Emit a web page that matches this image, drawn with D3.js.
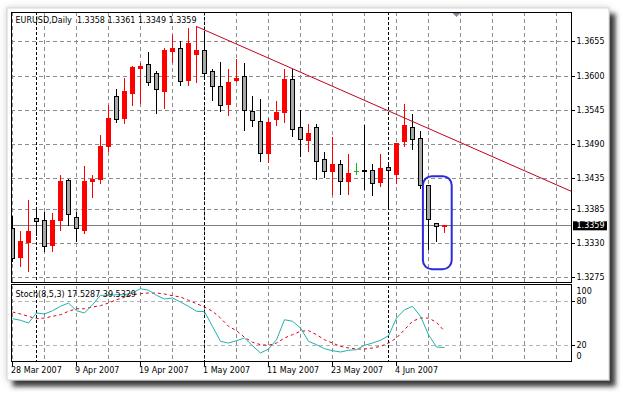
<!DOCTYPE html>
<html>
<head>
<meta charset="utf-8">
<script src="https://cdn.jsdelivr.net/npm/d3@7"></script>
<style>
  body { margin: 0; background: #fff; }
  svg { display: block; font-family: "DejaVu Sans", sans-serif; font-size: 8px; }
</style>
</head>
<body>
<div id="chart"></div>
<script>
// EURUSD daily candles (28 Mar - 12 Jun 2007) with a falling trendline
// and Stoch(8,5,3) in the sub window, MetaTrader look

const dates = [
  "2007-03-28", "2007-03-29", "2007-03-30", "2007-04-02", "2007-04-03", "2007-04-04", "2007-04-05", "2007-04-06",
  "2007-04-09", "2007-04-10", "2007-04-11", "2007-04-12", "2007-04-13", "2007-04-16", "2007-04-17", "2007-04-18",
  "2007-04-19", "2007-04-20", "2007-04-23", "2007-04-24", "2007-04-25", "2007-04-26", "2007-04-27", "2007-04-30",
  "2007-05-01", "2007-05-02", "2007-05-03", "2007-05-04", "2007-05-07", "2007-05-08", "2007-05-09", "2007-05-10",
  "2007-05-11", "2007-05-14", "2007-05-15", "2007-05-16", "2007-05-17", "2007-05-18", "2007-05-21", "2007-05-22",
  "2007-05-23", "2007-05-24", "2007-05-25", "2007-05-28", "2007-05-29", "2007-05-30", "2007-05-31", "2007-06-01",
  "2007-06-04", "2007-06-05", "2007-06-06", "2007-06-07", "2007-06-08", "2007-06-11", "2007-06-12"
];

const open = [
  1.3354, 1.3308, 1.3332, 1.3371, 1.3368, 1.3327, 1.3368, 1.3432, 1.3373, 1.3352, 1.3430, 1.3433, 1.3486, 1.3568,
  1.3532, 1.3572, 1.3612, 1.3618, 1.3604, 1.3576, 1.3640, 1.3644, 1.3593, 1.3635, 1.3641, 1.3608, 1.3583, 1.3554,
  1.3593, 1.3600, 1.3543, 1.3527, 1.3475, 1.3530, 1.3542, 1.3595, 1.3517, 1.3496, 1.3518, 1.3465, 1.3446, 1.3457,
  1.3430, 1.3447, 1.3448, 1.3448, 1.3428, 1.3453, 1.3441, 1.3495, 1.3518, 1.3499, 1.3424, 1.3362, 1.3358
];
const high = [
  1.3374, 1.3350, 1.3400, 1.3385, 1.3382, 1.3380, 1.3441, 1.3434, 1.3381, 1.3456, 1.3441, 1.3505, 1.3553, 1.3579,
  1.3597, 1.3617, 1.3621, 1.3639, 1.3608, 1.3645, 1.3666, 1.3656, 1.3678, 1.3680, 1.3673, 1.3612, 1.3622, 1.3612,
  1.3628, 1.3621, 1.3568, 1.3564, 1.3533, 1.3560, 1.3612, 1.3612, 1.3546, 1.3523, 1.3523, 1.3478, 1.3502, 1.3465,
  1.3474, 1.3460, 1.3522, 1.3459, 1.3475, 1.3460, 1.3493, 1.3555, 1.3539, 1.3511, 1.3425, 1.3364, 1.3361
];
const low = [
  1.3302, 1.3294, 1.3286, 1.3344, 1.3318, 1.3318, 1.3352, 1.3361, 1.3335, 1.3347, 1.3405, 1.3428, 1.3479, 1.3526,
  1.3525, 1.3554, 1.3557, 1.3585, 1.3540, 1.3548, 1.3622, 1.3586, 1.3586, 1.3591, 1.3600, 1.3562, 1.3544, 1.3537,
  1.3592, 1.3514, 1.3520, 1.3464, 1.3461, 1.3522, 1.3526, 1.3503, 1.3471, 1.3479, 1.3435, 1.3438, 1.3411, 1.3411,
  1.3411, 1.3443, 1.3419, 1.3408, 1.3423, 1.3390, 1.3428, 1.3487, 1.3483, 1.3420, 1.3321, 1.3334, 1.3349
];
const close = [
  1.3307, 1.3334, 1.3350, 1.3366, 1.3326, 1.3368, 1.3431, 1.3377, 1.3354, 1.3431, 1.3433, 1.3486, 1.3531, 1.3530,
  1.3575, 1.3614, 1.3616, 1.3590, 1.3579, 1.3641, 1.3645, 1.3592, 1.3653, 1.3642, 1.3605, 1.3584, 1.3553, 1.3590,
  1.3597, 1.3545, 1.3529, 1.3475, 1.3525, 1.3542, 1.3595, 1.3514, 1.3498, 1.3507, 1.3463, 1.3447, 1.3457, 1.3431,
  1.3443, 1.3447, 1.3446, 1.3427, 1.3452, 1.3448, 1.3492, 1.3520, 1.3498, 1.3424, 1.3369, 1.3358, 1.3359
];

const stochMain = [
  56.5, 54.3, 50.7, 64.2, 62.8, 67.3, 73.2, 77.7, 67.3, 64.2, 75.4, 88.1, 88.1, 88.9,
  88.9, 91.2, 97.0, 94.9, 88.1, 83.1, 84.5, 79.0, 73.2, 66.5, 66.0, 46.0, 25.9, 23.6,
  26.8, 30.4, 20.0, 10.1, 15.5, 28.1, 55.1, 53.0, 43.9, 25.9, 21.4, 16.0, 13.2, 11.5,
  13.8, 14.6, 20.5, 23.6, 27.3, 33.5, 57.4, 68.6, 73.2, 59.7, 34.9, 18.2, 17.5287
];
const stochSignal = [
  65.5, 62.8, 59.7, 56.5, 57.4, 59.7, 61.9, 66.5, 70.0, 70.0, 72.3, 74.1, 77.7, 82.2,
  85.4, 88.9, 90.3, 91.2, 91.2, 89.9, 87.6, 85.8, 81.4, 76.8, 72.3, 66.5, 57.4, 46.2,
  40.3, 31.3, 24.6, 21.4, 20.5, 23.6, 30.4, 34.9, 39.5, 40.3, 34.9, 28.1, 23.6, 19.1,
  16.9, 15.5, 15.5, 16.9, 19.1, 23.6, 30.4, 41.6, 53.0, 57.4, 57.4, 51.6, 39.5329
];

const priceTicks = [1.3655, 1.3600, 1.3545, 1.3490, 1.3435, 1.3385, 1.3330, 1.3275];
const stochTicks = [100, 80, 20, 0];
const stochLevels = [80, 20];
const trendAnchors = [{ bar: 23, price: 1.3680 }, { bar: 35, price: 1.3612 }];
const highlight = { from: 51.3, to: 54.9, high: 1.3439, low: 1.3289 };
const shiftBar = 55.5;

const W = 626, H = 395;
const main = { left: 11, right: 572, top: 12, bottom: 283 };
const sub = { top: 285, bottom: 362 };
const gridColor = "#8c8c8c";

const parse = d3.timeParse("%Y-%m-%d");
const fmtDate = d3.timeFormat("%-d %b %Y");
const f4 = d3.format(".4f");
const last = dates.length - 1;
const bars = dates.map((d, i) => ({
  i: i, date: parse(d), o: open[i], h: high[i], l: low[i], c: close[i]
}));

const svg = d3.select("#chart").append("svg")
  .attr("width", W)
  .attr("height", H);

// window frame with shadow
const defs = svg.append("defs");
const flt = defs.append("filter").attr("id", "shadow")
  .attr("x", "-5%").attr("y", "-5%").attr("width", "115%").attr("height", "115%");
flt.append("feGaussianBlur").attr("in", "SourceAlpha").attr("stdDeviation", 2.5).attr("result", "b1");
flt.append("feOffset").attr("in", "b1").attr("dx", 6).attr("dy", 6).attr("result", "o1");
flt.append("feFlood").attr("flood-color", "#262626").attr("flood-opacity", 0.9).attr("result", "c1");
flt.append("feComposite").attr("in", "c1").attr("in2", "o1").attr("operator", "in").attr("result", "s1");
flt.append("feGaussianBlur").attr("in", "SourceAlpha").attr("stdDeviation", 3).attr("result", "b2");
flt.append("feFlood").attr("flood-color", "#999").attr("flood-opacity", 0.5).attr("result", "c2");
flt.append("feComposite").attr("in", "c2").attr("in2", "b2").attr("operator", "in").attr("result", "s2");
const merge = flt.append("feMerge");
merge.append("feMergeNode").attr("in", "s2");
merge.append("feMergeNode").attr("in", "s1");
merge.append("feMergeNode").attr("in", "SourceGraphic");

svg.append("rect")
  .attr("x", 7).attr("y", 8).attr("width", 602).attr("height", 372)
  .attr("fill", "#fff").attr("stroke", "#d4d4d4")
  .attr("filter", "url(#shadow)");

defs.append("clipPath").attr("id", "clipMain").append("rect")
  .attr("x", main.left + 1).attr("y", main.top + 1)
  .attr("width", main.right - main.left - 1).attr("height", main.bottom - main.top - 1);
defs.append("clipPath").attr("id", "clipSub").append("rect")
  .attr("x", main.left + 1).attr("y", sub.top + 1)
  .attr("width", main.right - main.left - 1).attr("height", sub.bottom - sub.top - 1);

// 8 px per bar
const x = d3.scaleLinear()
  .domain([-0.1875, 69.9375])
  .range([main.left, main.right]);
const y = d3.scaleLinear()
  .domain([1.32669, 1.37033])
  .range([main.bottom, main.top]);
const ys = d3.scaleLinear()
  .domain([0, 100])
  .range([sub.bottom - 1.5, sub.top + 1.5]);

const px = v => Math.round(v - 0.5) + 0.5;

const gridBars = d3.range(0, 70, 4);
const monthStarts = bars.filter((b, i) => i > 0 && b.date.getMonth() !== bars[i - 1].date.getMonth());
const labelBars = bars.filter(b => b.i % 8 === 0);

// ---- main window ----
const gMain = svg.append("g").attr("clip-path", "url(#clipMain)");

gMain.selectAll(".hgrid").data(priceTicks).enter().append("line")
  .attr("x1", main.left).attr("x2", main.right)
  .attr("y1", d => px(y(d))).attr("y2", d => px(y(d)))
  .attr("stroke", gridColor).attr("stroke-dasharray", "4,3");

gMain.selectAll(".vgrid").data(gridBars).enter().append("line")
  .attr("x1", d => px(x(d))).attr("x2", d => px(x(d)))
  .attr("y1", main.top).attr("y2", main.bottom)
  .attr("stroke", gridColor).attr("stroke-dasharray", "4,3");

gMain.selectAll(".sep").data(monthStarts).enter().append("line")
  .attr("x1", d => px(x(d.i))).attr("x2", d => px(x(d.i)))
  .attr("y1", main.top).attr("y2", main.bottom)
  .attr("stroke", "#000").attr("stroke-dasharray", "3,2");

// bid line
gMain.append("line")
  .attr("x1", main.left).attr("x2", main.right)
  .attr("y1", px(y(close[last]))).attr("y2", px(y(close[last])))
  .attr("stroke", "#808080");

const upColor = "#ff0000", downFill = "#a8a8a8", dojiColor = "#22b022";
const candleColor = d => d.c === d.o ? dojiColor : (d.c > d.o ? upColor : "#000");

const candles = gMain.selectAll(".candle").data(bars).enter().append("g");

candles.append("line")
  .attr("x1", d => px(x(d.i))).attr("x2", d => px(x(d.i)))
  .attr("y1", d => Math.round(y(d.h))).attr("y2", d => Math.round(y(d.l)) + 1)
  .attr("stroke", candleColor);

candles.each(function(d) {
  const g = d3.select(this);
  const cx = px(x(d.i));
  const top = px(y(Math.max(d.o, d.c)));
  const bot = px(y(Math.min(d.o, d.c)));
  if (bot - top < 1) {
    g.append("line")
      .attr("x1", cx - 2.5).attr("x2", cx + 2.5)
      .attr("y1", top).attr("y2", top)
      .attr("stroke", candleColor(d));
  } else {
    g.append("rect")
      .attr("x", cx - 2).attr("y", top)
      .attr("width", 4).attr("height", bot - top)
      .attr("fill", d.c > d.o ? upColor : downFill)
      .attr("stroke", candleColor(d));
  }
});

// trendline, extended to the right edge
const slope = (trendAnchors[1].price - trendAnchors[0].price) / (trendAnchors[1].bar - trendAnchors[0].bar);
const endBar = x.domain()[1];
gMain.append("line")
  .attr("x1", x(trendAnchors[0].bar)).attr("y1", y(trendAnchors[0].price))
  .attr("x2", x(endBar)).attr("y2", y(trendAnchors[0].price + slope * (endBar - trendAnchors[0].bar)))
  .attr("stroke", "#c4001e").attr("stroke-width", 1);

gMain.append("rect")
  .attr("x", x(highlight.from)).attr("y", y(highlight.high))
  .attr("width", x(highlight.to) - x(highlight.from))
  .attr("height", y(highlight.low) - y(highlight.high))
  .attr("rx", 9).attr("ry", 9)
  .attr("fill", "none").attr("stroke", "#2b2bdc").attr("stroke-width", 2);

// chart shift marker
const sx = x(shiftBar);
svg.append("path")
  .attr("d", `M${sx - 4},${main.top + 1}L${sx + 4},${main.top + 1}L${sx},${main.top + 5}Z`)
  .attr("fill", "#7d8a96");

svg.append("rect")
  .attr("x", main.left + 0.5).attr("y", main.top + 0.5)
  .attr("width", main.right - main.left - 1).attr("height", main.bottom - main.top - 1)
  .attr("fill", "none").attr("stroke", "#000");

svg.append("text")
  .attr("x", 15.5).attr("y", 20)
  .attr("dominant-baseline", "middle")
  .style("white-space", "pre")
  .text(`EURUSD,Daily  ${f4(open[last])} ${f4(high[last])} ${f4(low[last])} ${f4(close[last])}`);

// price scale
const pAxis = svg.append("g");
pAxis.selectAll("line").data(priceTicks).enter().append("line")
  .attr("x1", main.right).attr("x2", main.right + 3)
  .attr("y1", d => px(y(d))).attr("y2", d => px(y(d)))
  .attr("stroke", "#000");
pAxis.selectAll("text").data(priceTicks).enter().append("text")
  .attr("x", main.right + 4.5).attr("y", d => y(d))
  .attr("dominant-baseline", "middle")
  .text(d => f4(d));

svg.append("rect")
  .attr("x", main.right + 1).attr("y", y(close[last]) - 4.5)
  .attr("width", 34).attr("height", 9)
  .attr("fill", "#000");
svg.append("text")
  .attr("x", main.right + 4.5).attr("y", y(close[last]))
  .attr("dominant-baseline", "middle")
  .attr("fill", "#fff")
  .text(f4(close[last]));

// ---- stochastic window ----
const gSub = svg.append("g").attr("clip-path", "url(#clipSub)");

gSub.selectAll(".lvl").data(stochLevels).enter().append("line")
  .attr("x1", main.left).attr("x2", main.right)
  .attr("y1", d => px(ys(d))).attr("y2", d => px(ys(d)))
  .attr("stroke", "#b4b4b4").attr("stroke-dasharray", "4,3");

gSub.selectAll(".vgrid").data(gridBars).enter().append("line")
  .attr("x1", d => px(x(d))).attr("x2", d => px(x(d)))
  .attr("y1", sub.top).attr("y2", sub.bottom)
  .attr("stroke", gridColor).attr("stroke-dasharray", "4,3");

gSub.selectAll(".sep").data(monthStarts).enter().append("line")
  .attr("x1", d => px(x(d.i))).attr("x2", d => px(x(d.i)))
  .attr("y1", sub.top).attr("y2", sub.bottom)
  .attr("stroke", "#000").attr("stroke-dasharray", "3,2");

const stochLine = d3.line()
  .x((d, i) => x(i))
  .y(d => ys(d));

gSub.append("path")
  .attr("d", stochLine(stochSignal))
  .attr("fill", "none").attr("stroke", "#d80018").attr("stroke-dasharray", "3,3");
gSub.append("path")
  .attr("d", stochLine(stochMain))
  .attr("fill", "none").attr("stroke", "#20b2aa");

svg.append("rect")
  .attr("x", main.left + 0.5).attr("y", sub.top - 0.5)
  .attr("width", main.right - main.left - 1).attr("height", sub.bottom - sub.top)
  .attr("fill", "none").attr("stroke", "#000");

svg.append("text")
  .attr("x", 15.5).attr("y", 294.5)
  .attr("dominant-baseline", "middle")
  .text(`Stoch(8,5,3) ${f4(stochMain[last])} ${f4(stochSignal[last])}`);

const sAxis = svg.append("g");
sAxis.selectAll("line").data(stochLevels).enter().append("line")
  .attr("x1", main.right).attr("x2", main.right + 3)
  .attr("y1", d => px(ys(d))).attr("y2", d => px(ys(d)))
  .attr("stroke", "#000");
sAxis.selectAll("text").data(stochTicks).enter().append("text")
  .attr("x", main.right + 4.5)
  .attr("y", d => Math.max(sub.top + 6, Math.min(sub.bottom - 6, ys(d))))
  .attr("dominant-baseline", "middle")
  .text(d => d);

// time scale
const tAxis = svg.append("g");
tAxis.selectAll("line").data(labelBars).enter().append("line")
  .attr("x1", d => px(x(d.i))).attr("x2", d => px(x(d.i)))
  .attr("y1", sub.bottom).attr("y2", sub.bottom + 4)
  .attr("stroke", "#000");
tAxis.selectAll("text").data(labelBars).enter().append("text")
  .attr("x", d => x(d.i) - 1.5).attr("y", sub.bottom + 8)
  .attr("dominant-baseline", "middle")
  .text(d => fmtDate(d.date));
</script>
</body>
</html>
